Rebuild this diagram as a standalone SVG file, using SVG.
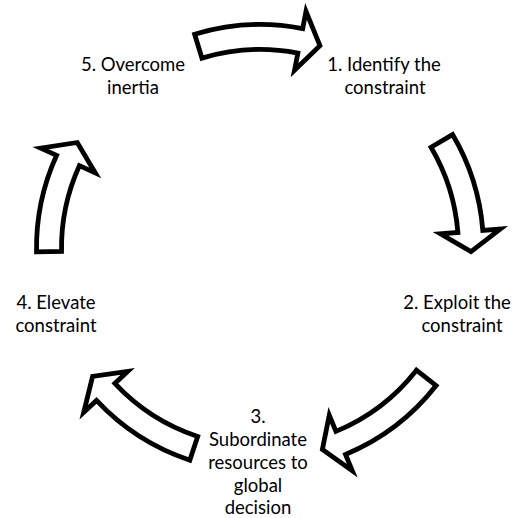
<svg xmlns="http://www.w3.org/2000/svg" width="521" height="518" viewBox="0 0 521 518">
  <style>
    .arrow { fill: #ffffff; stroke: #000000; stroke-width: 4.8; stroke-linejoin: miter; stroke-miterlimit: 6; }
    .label { font-family: Lato, "Liberation Sans", sans-serif; font-size: 18.5px; fill: #000000; text-anchor: middle; }
  </style>
  <rect width="521" height="518" fill="#ffffff"/>

  <!-- Curved block arrows on a circle centred at (260,248), mid radius 211 -->
  <g id="connectors">
    <path id="arrow-5-1" class="arrow" d="M194.65,34.27 A223.5,223.5 0 0 1 302.65,28.61 L305.99,11.43 L319.93,45.69 L294.54,70.32 L297.88,53.15 A198.5,198.5 0 0 0 201.97,58.17 Z"/>
    <path id="arrow-1-2" class="arrow" d="M452.57,134.56 A223.5,223.5 0 0 1 482.81,230.46 L500.26,229.09 L470.97,251.68 L440.44,233.80 L457.89,232.43 A198.5,198.5 0 0 0 431.03,147.25 Z"/>
    <path id="arrow-2-3" class="arrow" d="M436.12,385.60 A223.5,223.5 0 0 1 345.53,454.49 L352.23,470.66 L322.39,449.56 L329.27,415.22 L335.96,431.39 A198.5,198.5 0 0 0 416.42,370.21 Z"/>
    <path id="arrow-3-4" class="arrow" d="M189.82,460.20 A223.5,223.5 0 0 1 96.54,400.43 L83.74,412.36 L92.60,376.45 L127.63,371.44 L114.83,383.38 A198.5,198.5 0 0 0 197.67,436.46 Z"/>
    <path id="arrow-4-5" class="arrow" d="M36.53,251.90 A223.5,223.5 0 0 1 56.62,155.32 L40.70,148.06 L77.27,142.50 L95.30,172.94 L79.37,165.68 A198.5,198.5 0 0 0 61.53,251.46 Z"/>
  </g>

  <g id="node-1">
    <text class="label" x="384" y="71">1. Identify the</text>
    <text class="label" x="385" y="94">constraint</text>
  </g>
  <g id="node-2">
    <text class="label" x="457" y="309">2. Exploit the</text>
    <text class="label" x="462" y="332">constraint</text>
  </g>
  <g id="node-3">
    <text class="label" x="258" y="423">3.</text>
    <text class="label" x="258" y="446">Subordinate</text>
    <text class="label" x="258" y="469">resources to</text>
    <text class="label" x="258" y="492">global</text>
    <text class="label" x="258" y="514">decision</text>
  </g>
  <g id="node-4">
    <text class="label" x="56" y="309">4. Elevate</text>
    <text class="label" x="56" y="332">constraint</text>
  </g>
  <g id="node-5">
    <text class="label" x="133" y="71">5. Overcome</text>
    <text class="label" x="133" y="94">inertia</text>
  </g>
</svg>
